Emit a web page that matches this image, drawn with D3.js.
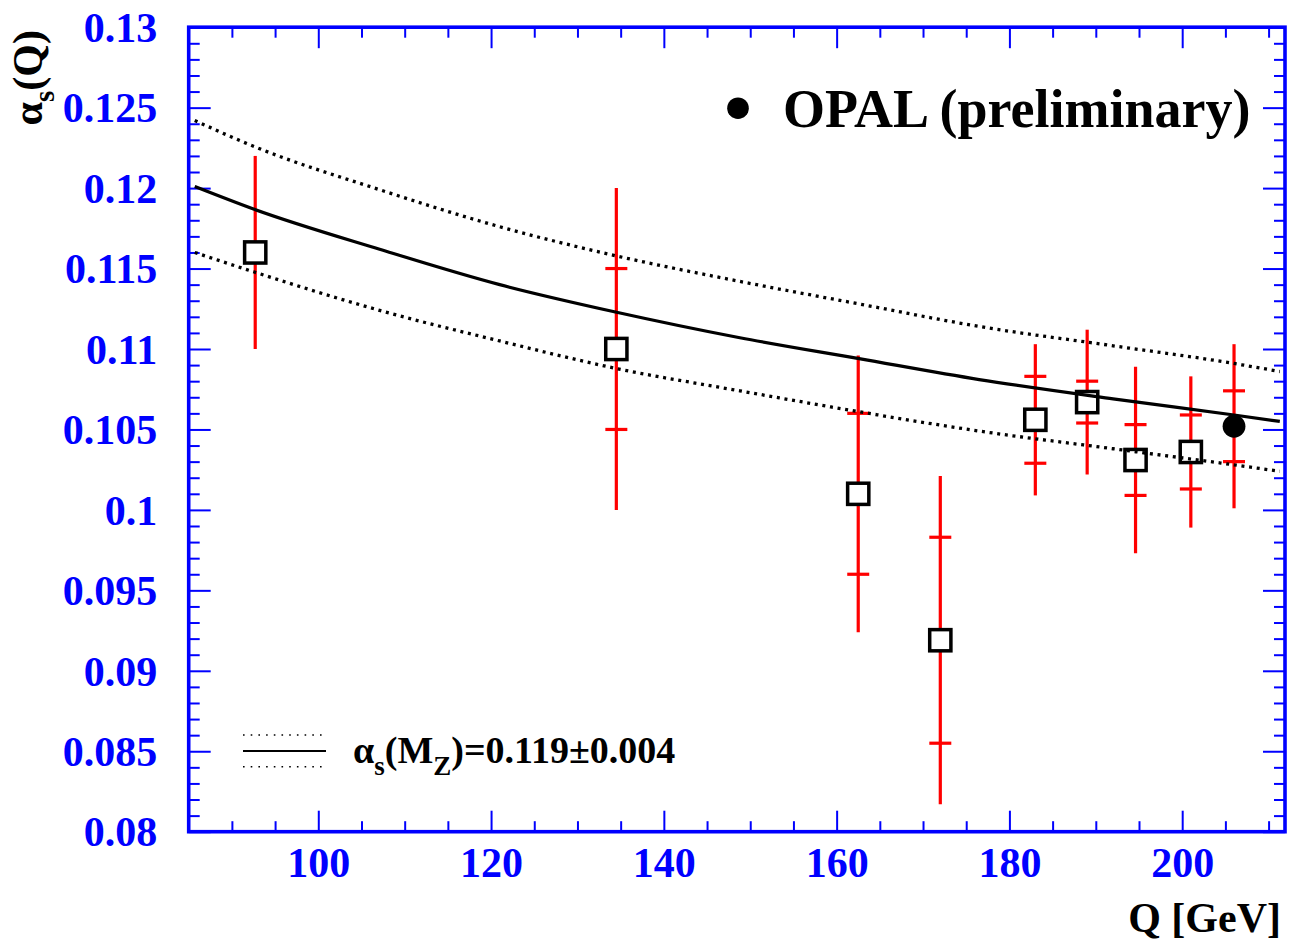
<!DOCTYPE html>
<html>
<head>
<meta charset="utf-8">
<script src="https://cdn.jsdelivr.net/npm/d3@7"></script>
<style>
  html, body { margin: 0; padding: 0; background: #fff; }
  svg { display: block; }
  text { font-family: "Liberation Serif", "Times New Roman", serif; font-weight: bold; }
</style>
</head>
<body>
<svg id="chart" width="1289" height="942"></svg>
<script>
// Measured alpha_s at the various centre-of-mass energies (open squares)
const energies   = [92.7, 134.5, 162.5, 172.0, 183.0, 189.0, 194.6, 201.0];
const alphaVals  = [0.1160, 0.1100, 0.1010, 0.0919, 0.1056, 0.1067, 0.1031, 0.1036];
const statErrors = [null, 0.0050, 0.0050, 0.0064, 0.0027, 0.0013, 0.0022, 0.0023];
const totErrors  = [0.0060, 0.0100, 0.0086, 0.0102, 0.0047, 0.0045, 0.0058, 0.0047];

// OPAL preliminary point (filled circle)
const opalEnergy = [206.0];
const opalAlpha  = [0.1052];
const opalStat   = [0.0022];
const opalTot    = [0.0051];

// QCD running of alpha_s(M_Z) = 0.119 +- 0.004
const curveQ     = [85.7, 92.5, 107.1, 121.0, 134.4, 148.8, 162.6, 176.5, 192.0, 206.0, 211.3];
const curveMid   = [0.1201, 0.1187, 0.1162, 0.1140, 0.1123, 0.1107, 0.1094, 0.1081, 0.1069, 0.1059, 0.1055];
const curveHigh  = [0.1242, 0.1226, 0.1199, 0.1176, 0.1158, 0.1142, 0.1128, 0.1114, 0.1102, 0.1091, 0.1086];
const curveLow   = [0.1160, 0.1148, 0.1124, 0.1105, 0.1088, 0.1074, 0.1061, 0.1049, 0.1038, 0.1028, 0.1024];

// Axis ticks
const xMajorTicks = [100, 120, 140, 160, 180, 200];
const xMinorTicks = d3.range(90, 212, 5).filter(v => v % 20 !== 0);
const yMajorTicks = [0.08, 0.085, 0.09, 0.095, 0.1, 0.105, 0.11, 0.115, 0.12, 0.125, 0.13];
const yMinorTicks = d3.range(81, 130, 1).map(v => v / 1000).filter((v, i) => (i + 1) % 5 !== 0);

const BLUE = "#0000ff";
const RED = "#ff0000";

const frame = { left: 188.7, right: 1285, top: 27.2, bottom: 831.7 };

const svg = d3.select("#chart");

const x = d3.scaleLinear().domain([85, 211.9]).range([frame.left, frame.right]);
const y = d3.scaleLinear().domain([0.08, 0.13]).range([frame.bottom, frame.top]);

const fmtY = d => String(+d.toFixed(3));

// ---- axes: ticks point into the frame on all four sides ----
function styleAxis(g) {
  g.select(".domain").remove();
  g.selectAll(".tick line").attr("stroke", BLUE).attr("stroke-width", 2);
  g.selectAll(".tick text").attr("fill", BLUE).attr("font-size", 42)
    .attr("font-family", '"Liberation Serif", "Times New Roman", serif').attr("font-weight", "bold");
}

// bottom
svg.append("g").attr("transform", `translate(0,${frame.bottom})`)
  .call(d3.axisBottom(x).tickValues(xMajorTicks).tickSize(-21).tickPadding(15).tickFormat(d3.format("d")))
  .call(styleAxis);
svg.append("g").attr("transform", `translate(0,${frame.bottom})`)
  .call(d3.axisBottom(x).tickValues(xMinorTicks).tickSize(-10.5).tickFormat(""))
  .call(styleAxis);
// top
svg.append("g").attr("transform", `translate(0,${frame.top})`)
  .call(d3.axisTop(x).tickValues(xMajorTicks).tickSize(-21).tickFormat(""))
  .call(styleAxis);
svg.append("g").attr("transform", `translate(0,${frame.top})`)
  .call(d3.axisTop(x).tickValues(xMinorTicks).tickSize(-10.5).tickFormat(""))
  .call(styleAxis);
// left
svg.append("g").attr("transform", `translate(${frame.left},0)`)
  .call(d3.axisLeft(y).tickValues(yMajorTicks).tickSize(-22).tickPadding(31.5).tickFormat(fmtY))
  .call(styleAxis)
  .call(g => g.selectAll(".tick text").attr("dy", "0.34em"));
svg.append("g").attr("transform", `translate(${frame.left},0)`)
  .call(d3.axisLeft(y).tickValues(yMinorTicks).tickSize(-11).tickFormat(""))
  .call(styleAxis);
// right
svg.append("g").attr("transform", `translate(${frame.right},0)`)
  .call(d3.axisRight(y).tickValues(yMajorTicks).tickSize(-22).tickFormat(""))
  .call(styleAxis);
svg.append("g").attr("transform", `translate(${frame.right},0)`)
  .call(d3.axisRight(y).tickValues(yMinorTicks).tickSize(-11).tickFormat(""))
  .call(styleAxis);

// frame
svg.append("rect")
  .attr("x", frame.left).attr("y", frame.top)
  .attr("width", frame.right - frame.left).attr("height", frame.bottom - frame.top)
  .attr("fill", "none").attr("stroke", BLUE).attr("stroke-width", 3.6);

// ---- error bars ----
const pts = energies.map((q, i) => ({ q, a: alphaVals[i], s: statErrors[i], t: totErrors[i], kind: "square" }))
  .concat(opalEnergy.map((q, i) => ({ q, a: opalAlpha[i], s: opalStat[i], t: opalTot[i], kind: "circle" })));

const errG = svg.append("g").attr("stroke", RED).attr("stroke-width", 3.2);
errG.selectAll("line.tot").data(pts).join("line")
  .attr("x1", d => x(d.q)).attr("x2", d => x(d.q))
  .attr("y1", d => y(d.a + d.t)).attr("y2", d => y(d.a - d.t));
const statPts = pts.filter(d => d.s !== null);
errG.selectAll("line.su").data(statPts).join("line")
  .attr("x1", d => x(d.q) - 11).attr("x2", d => x(d.q) + 11)
  .attr("y1", d => y(d.a + d.s)).attr("y2", d => y(d.a + d.s));
errG.selectAll("line.sd").data(statPts).join("line")
  .attr("x1", d => x(d.q) - 11).attr("x2", d => x(d.q) + 11)
  .attr("y1", d => y(d.a - d.s)).attr("y2", d => y(d.a - d.s));

// ---- markers ----
svg.append("g").selectAll("rect").data(pts.filter(d => d.kind === "square")).join("rect")
  .attr("x", d => x(d.q) - 10.6).attr("y", d => y(d.a) - 10.6)
  .attr("width", 21.2).attr("height", 21.2)
  .attr("fill", "#fff").attr("stroke", "#000").attr("stroke-width", 3.5);
svg.append("g").selectAll("circle").data(pts.filter(d => d.kind === "circle")).join("circle")
  .attr("cx", d => x(d.q)).attr("cy", d => y(d.a)).attr("r", 11.4).attr("fill", "#000");

// ---- running coupling curves ----
const lineGen = vals => d3.line().curve(d3.curveMonotoneX)
  .x((q) => x(q)).y((q, i) => y(vals[i]))(curveQ);

svg.append("path").attr("d", lineGen(curveMid))
  .attr("fill", "none").attr("stroke", "#000").attr("stroke-width", 3.2);
[curveHigh, curveLow].forEach(vals => {
  svg.append("path").attr("d", lineGen(vals))
    .attr("fill", "none").attr("stroke", "#000").attr("stroke-width", 3.3)
    .attr("stroke-dasharray", "3 4.7");
});

// ---- legends ----
svg.append("circle").attr("cx", 738).attr("cy", 108.2).attr("r", 10.8).attr("fill", "#000");
svg.append("text").attr("x", 783).attr("y", 127).attr("font-size", 54).attr("fill", "#000")
  .text("OPAL (preliminary)");

const lg = svg.append("g");
lg.append("line").attr("x1", 243).attr("x2", 326).attr("y1", 735).attr("y2", 735)
  .attr("stroke", "#000").attr("stroke-width", 1.4).attr("stroke-dasharray", "1.6 6.1");
lg.append("line").attr("x1", 243).attr("x2", 326).attr("y1", 751).attr("y2", 751)
  .attr("stroke", "#000").attr("stroke-width", 1.8);
lg.append("line").attr("x1", 243).attr("x2", 326).attr("y1", 766.7).attr("y2", 766.7)
  .attr("stroke", "#000").attr("stroke-width", 1.4).attr("stroke-dasharray", "1.6 6.1");

const lt = lg.append("text").attr("x", 353).attr("y", 763).attr("font-size", 38).attr("fill", "#000");
lt.append("tspan").text("α");
lt.append("tspan").attr("font-size", 27).attr("dy", 12).text("s");
lt.append("tspan").attr("dy", -12).text("(M");
lt.append("tspan").attr("font-size", 27).attr("dy", 12).text("Z");
lt.append("tspan").attr("dy", -12).text(")=0.119±0.004");

// ---- axis titles ----
svg.append("text").attr("x", 1281).attr("y", 932).attr("text-anchor", "end")
  .attr("font-size", 42).attr("fill", "#000").text("Q [GeV]");

const yt = svg.append("text").attr("transform", "translate(42,30) rotate(-90)")
  .attr("text-anchor", "end").attr("font-size", 42).attr("fill", "#000");
yt.append("tspan").text("α");
yt.append("tspan").attr("font-size", 29).attr("dy", 12).text("s");
yt.append("tspan").attr("dy", -12).text("(Q)");
</script>
</body>
</html>
